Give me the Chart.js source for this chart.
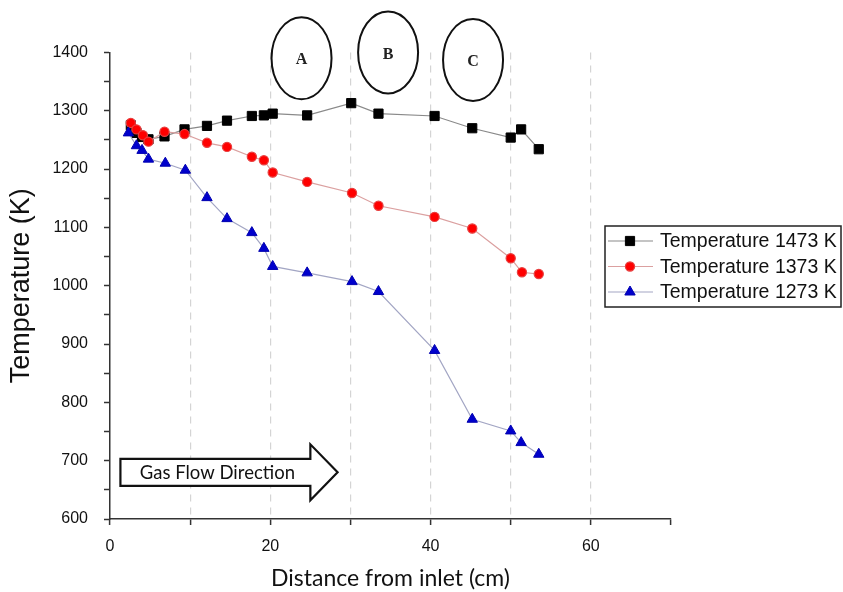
<!DOCTYPE html>
<html>
<head>
<meta charset="utf-8">
<script src="https://cdn.jsdelivr.net/npm/chart.js@4/dist/chart.umd.min.js"></script>
<style>
  html, body { margin: 0; padding: 0; background: #fff; }
</style>
</head>
<body>
<canvas id="tempChart" width="843" height="592"></canvas>
<script>
// waarden (afstand in cm, temperatuur in K)
const x1473 = [2.6, 3.3, 4.0, 4.8, 6.8, 9.3, 12.1, 14.6, 17.7, 19.2, 20.3, 24.6, 30.1, 33.5, 40.5, 45.2, 50.0, 51.3, 53.5];
const t1473 = [1275, 1262, 1255, 1251, 1256, 1268, 1274, 1283, 1291, 1292, 1295, 1292, 1313, 1295, 1291, 1270, 1254, 1268, 1234];

const x1373 = [2.6, 3.3, 4.1, 4.8, 6.8, 9.3, 12.1, 14.6, 17.7, 19.2, 20.3, 24.6, 30.2, 33.5, 40.5, 45.2, 50.0, 51.4, 53.5];
const t1373 = [1279, 1268, 1258, 1247, 1264, 1260, 1245, 1238, 1221, 1215, 1194, 1178, 1159, 1137, 1118, 1098, 1047, 1023, 1020];

const x1273 = [2.3, 3.3, 4.0, 4.8, 6.9, 9.4, 12.1, 14.6, 17.7, 19.2, 20.3, 24.6, 30.2, 33.5, 40.5, 45.2, 50.0, 51.3, 53.5];
const t1273 = [1262, 1240, 1232, 1217, 1210, 1198, 1151, 1115, 1091, 1064, 1033, 1022, 1007, 990, 889, 771, 751, 731, 711];

const seriesLabels = ['Temperature 1473 K', 'Temperature 1373 K', 'Temperature 1273 K'];
const zoneLabels = ['A', 'B', 'C'];
const zoneX = [23.9, 34.7, 45.3];
const zoneY = [1390, 1400, 1387];

function toPoints(xs, ys) {
    return xs.map((x, i) => ({ x: x, y: ys[i] }));
}

// ellipsen A/B/C, de pijl voor de gasstroom en de legenda met kader
const annotaties = {
    id: 'annotaties',
    afterDraw(chart) {
        const ctx = chart.ctx;
        const sx = chart.scales.x, sy = chart.scales.y;
        ctx.save();
        ctx.strokeStyle = '#111';
        ctx.lineWidth = 2;
        ctx.fillStyle = '#222';
        ctx.font = 'bold 16px "Liberation Serif", "DejaVu Serif", serif';
        ctx.textAlign = 'center';
        ctx.textBaseline = 'middle';
        zoneLabels.forEach((lab, i) => {
            const cx = sx.getPixelForValue(zoneX[i]);
            const cy = sy.getPixelForValue(zoneY[i]);
            ctx.beginPath();
            ctx.ellipse(cx, cy, 30, 41, 0, 0, Math.PI * 2);
            ctx.stroke();
            ctx.fillText(lab, cx, cy + 2);
        });

        // pijl
        const x0 = sx.getPixelForValue(1.3);
        const xh = sx.getPixelForValue(25.0);
        const xt = sx.getPixelForValue(28.4);
        const yc = sy.getPixelForValue(680);
        ctx.beginPath();
        ctx.moveTo(x0, yc - 13.5);
        ctx.lineTo(xh, yc - 13.5);
        ctx.lineTo(xh, yc - 28);
        ctx.lineTo(xt, yc);
        ctx.lineTo(xh, yc + 28);
        ctx.lineTo(xh, yc + 13.5);
        ctx.lineTo(x0, yc + 13.5);
        ctx.closePath();
        ctx.fillStyle = '#fff';
        ctx.fill();
        ctx.lineWidth = 2.2;
        ctx.stroke();
        ctx.fillStyle = '#111';
        ctx.font = '18.5px Lato, "Open Sans", sans-serif';
        ctx.fillText('Gas Flow Direction', (x0 + xh) / 2 + 2, yc + 1);

        // legenda
        const bx = 605, by = 226, bw = 236, bh = 81;
        ctx.lineWidth = 1.5;
        ctx.strokeStyle = '#222';
        ctx.strokeRect(bx, by, bw, bh);
        ctx.textAlign = 'left';
        ctx.font = '19.5px "Liberation Sans", Arial, sans-serif';
        chart.data.datasets.forEach((ds, i) => {
            const ry = by + 15 + i * 25.5;
            ctx.beginPath();
            ctx.strokeStyle = ds.borderColor;
            ctx.lineWidth = 1.2;
            ctx.moveTo(bx + 3, ry);
            ctx.lineTo(bx + 48, ry);
            ctx.stroke();
            ctx.fillStyle = ds.pointBackgroundColor;
            ctx.strokeStyle = ds.pointBorderColor;
            ctx.lineWidth = ds.pointBorderWidth;
            Chart.helpers.drawPoint(ctx, {
                pointStyle: ds.pointStyle,
                radius: ds.pointRadius,
                borderWidth: ds.pointBorderWidth,
                rotation: 0
            }, bx + 25, ry);
            ctx.fillStyle = '#111';
            ctx.fillText(ds.label, bx + 55, ry + 1);
        });
        ctx.restore();
    }
};

const datasets = [
    {
        label: seriesLabels[0],
        data: toPoints(x1473, t1473),
        borderColor: '#8a8a8a',
        pointBackgroundColor: '#000',
        pointBorderColor: '#000',
        pointStyle: 'rect',
        pointRadius: 6.5,
        pointBorderWidth: 1,
        order: 3
    },
    {
        label: seriesLabels[1],
        data: toPoints(x1373, t1373),
        borderColor: '#dba0a0',
        pointBackgroundColor: '#ff0000',
        pointBorderColor: '#e84040',
        pointStyle: 'circle',
        pointRadius: 4.6,
        pointBorderWidth: 1.2,
        order: 2
    },
    {
        label: seriesLabels[2],
        data: toPoints(x1273, t1273),
        borderColor: '#a3a6c4',
        pointBackgroundColor: '#0000cc',
        pointBorderColor: '#0000b0',
        pointStyle: 'triangle',
        pointRadius: 6,
        pointBorderWidth: 1,
        order: 1
    }
].map(ds => Object.assign(ds, { showLine: true, borderWidth: 1.2, fill: false, tension: 0 }));

const ctx = document.getElementById('tempChart').getContext('2d');
const tempChart = new Chart(ctx, {
    type: 'scatter',
    data: { datasets: datasets },
    options: {
        responsive: false,
        animation: false,
        layout: { padding: { top: 52.4, right: 172, left: 0, bottom: 0 } },
        plugins: {
            legend: { display: false },
            tooltip: { enabled: false }
        },
        scales: {
            x: {
                type: 'linear',
                min: 0,
                max: 70,
                afterFit(scale) { scale.height = 73; },
                border: { display: true, color: '#333', width: 1.5, dash: [7, 6] },
                grid: {
                    color: c => (c.tick && (c.tick.value === 0 || c.tick.value === 70)) ? 'rgba(0,0,0,0)' : '#d4d4d4',
                    lineWidth: 1.2,
                    tickColor: '#333',
                    tickLength: 6,
                    tickWidth: 1.5
                },
                ticks: {
                    stepSize: 10,
                    padding: 12,
                    color: '#111',
                    font: { family: '"Liberation Sans", Arial, sans-serif', size: 16 },
                    callback: v => (v % 20 === 0 && v < 70) ? v : ''
                },
                title: {
                    display: true,
                    text: 'Distance from inlet (cm)',
                    color: '#111',
                    font: { family: 'Lato, "Open Sans", sans-serif', size: 23, lineHeight: 1.1 },
                    padding: { top: 0, bottom: 1 }
                }
            },
            y: {
                min: 600,
                max: 1400,
                afterFit(scale) { scale.width = 110; },
                border: { display: true, color: '#333', width: 1.5 },
                grid: {
                    drawOnChartArea: false,
                    tickColor: '#333',
                    tickLength: 6,
                    tickWidth: 1.5
                },
                ticks: {
                    stepSize: 50,
                    autoSkip: false,
                    padding: 16,
                    color: '#111',
                    font: { family: '"Liberation Sans", Arial, sans-serif', size: 16 },
                    callback: v => v % 100 === 0 ? v : ''
                },
                title: {
                    display: true,
                    text: 'Temperature (K)',
                    color: '#111',
                    font: { family: '"Liberation Sans", Arial, sans-serif', size: 27, lineHeight: 1.1 },
                    padding: { top: 7, bottom: 0 }
                }
            }
        }
    },
    plugins: [annotaties]
});
</script>
</body>
</html>
